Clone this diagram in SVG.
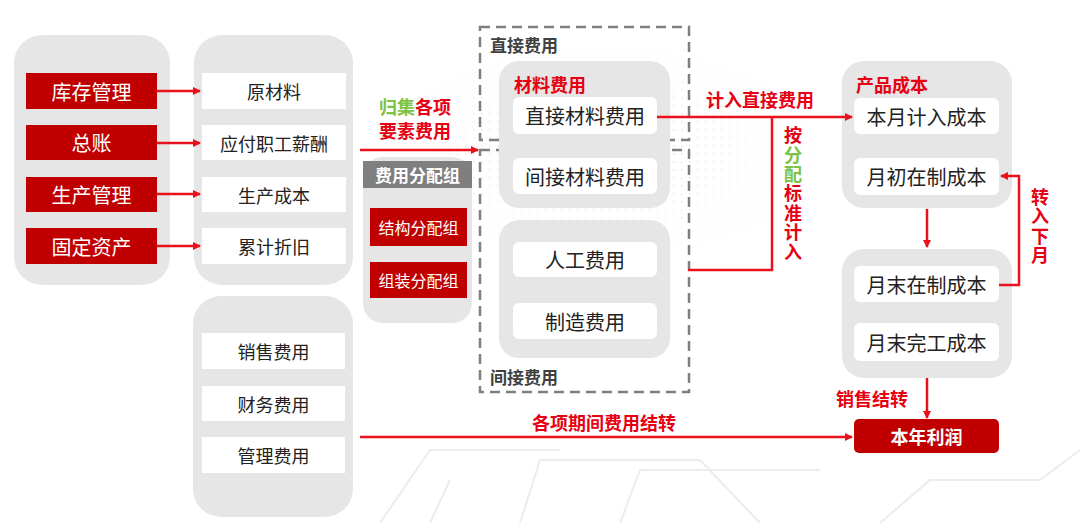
<svg xmlns="http://www.w3.org/2000/svg" width="1080" height="523" viewBox="0 0 1080 523">
<defs>
<style>
.c{fill:#e6e6e6}
.w{fill:#ffffff}
.r{fill:#c00000}
.t{font-family:"Noto Sans CJK SC","Noto Sans",sans-serif;text-anchor:middle;dominant-baseline:central}
.k{fill:#222;font-size:18px}
.kb{fill:#222;font-size:20px}
.wt{fill:#fff;font-size:20px}
.ws{fill:#fff;font-size:16px}
.rl{fill:#e60012;font-size:18px;font-weight:bold}
.dl{fill:#404040;font-size:17px;font-weight:bold}
.vt{font-family:"Noto Sans CJK SC","Noto Sans",sans-serif;font-size:18px;font-weight:bold;fill:#e60012;writing-mode:vertical-rl;letter-spacing:1.5px}
.ln{stroke:#e8111c;stroke-width:2.5;fill:none}
.dash{stroke:#7f7f7f;stroke-width:2.5;fill:none;stroke-dasharray:10 6}
</style>
<marker id="ah" markerWidth="8" markerHeight="8" refX="7" refY="4" orient="auto" markerUnits="userSpaceOnUse">
<path d="M0,0 L8,4 L0,8 Z" fill="#e8111c"/>
</marker>
<pattern id="dots" width="8" height="8" patternUnits="userSpaceOnUse">
<circle cx="2" cy="2" r="1" fill="#f3b8bb"/>
</pattern>
<radialGradient id="fade" cx="0.5" cy="0.5" r="0.5">
<stop offset="0" stop-color="#fff" stop-opacity="0.6"/>
<stop offset="1" stop-color="#fff" stop-opacity="0"/>
</radialGradient>
<mask id="m"><rect x="340" y="20" width="520" height="260" fill="url(#fade)"/></mask>
</defs>
<rect width="1080" height="523" fill="#ffffff"/>
<rect x="340" y="20" width="520" height="260" fill="url(#dots)" mask="url(#m)"/>
<g stroke="#ececec" stroke-width="2" fill="none">
<path d="M380 523 L430 450 L560 450"/>
<path d="M520 523 L540 460 L700 460 L760 523"/>
<path d="M620 523 L640 470 L820 470"/>
<path d="M430 523 L450 480"/>
<path d="M880 523 L930 480 L1040 480 L1080 450"/>
</g>

<g id="src">
<rect class="c" x="14" y="35" width="156" height="250" rx="28"/>
<g id="n-kucun"><rect class="r" x="26" y="73" width="131" height="36"/><text class="t wt" x="91.5" y="91">库存管理</text></g>
<g id="n-zongzhang"><rect class="r" x="26" y="125" width="131" height="35"/><text class="t wt" x="91.5" y="142.5">总账</text></g>
<g id="n-shengchan"><rect class="r" x="26" y="177" width="131" height="35"/><text class="t wt" x="91.5" y="194.5">生产管理</text></g>
<g id="n-guding"><rect class="r" x="26" y="228" width="131" height="36"/><text class="t wt" x="91.5" y="246">固定资产</text></g>
</g>

<g id="elem">
<rect class="c" x="194" y="35" width="159" height="250" rx="28"/>
<g id="n-yuancailiao"><rect class="w" x="202" y="73" width="144" height="36"/><text class="t k" x="274" y="91">原材料</text></g>
<g id="n-xinchou"><rect class="w" x="202" y="125" width="144" height="35"/><text class="t k" x="274" y="142.5">应付职工薪酬</text></g>
<g id="n-scchengben"><rect class="w" x="202" y="177" width="144" height="35"/><text class="t k" x="274" y="194.5">生产成本</text></g>
<g id="n-zhejiu"><rect class="w" x="202" y="228" width="144" height="36"/><text class="t k" x="274" y="246">累计折旧</text></g>
</g>

<g id="period">
<rect class="c" x="193" y="296" width="160" height="221" rx="28"/>
<g id="n-xiaoshou"><rect class="w" x="202" y="333" width="143" height="36"/><text class="t k" x="273.5" y="351">销售费用</text></g>
<g id="n-caiwu"><rect class="w" x="202" y="386" width="143" height="35"/><text class="t k" x="273.5" y="403.5">财务费用</text></g>
<g id="n-guanli"><rect class="w" x="202" y="437" width="143" height="36"/><text class="t k" x="273.5" y="455">管理费用</text></g>
</g>

<g id="alloc">
<rect class="c" x="363" y="157" width="109" height="166" rx="20"/>
<rect x="363" y="161" width="109" height="27" fill="#7f7f7f"/>
<text class="t" x="417.5" y="174.5" fill="#fff" font-size="17" font-weight="bold">费用分配组</text>
<g id="n-jiegou"><rect class="r" x="370" y="208" width="97" height="38"/><text class="t ws" x="418.5" y="227">结构分配组</text></g>
<g id="n-zuzhuang"><rect class="r" x="370" y="262" width="97" height="36"/><text class="t ws" x="418.5" y="280">组装分配组</text></g>
</g>

<g id="direct">
<rect class="dash" x="480" y="27" width="209" height="113"/>
<text class="t dl" x="524" y="44">直接费用</text>
</g>
<g id="indirect">
<rect class="dash" x="480" y="150" width="209" height="242"/>
<text class="t dl" x="524" y="376">间接费用</text>
</g>

<g id="material">
<rect class="c" x="499" y="61" width="171" height="147" rx="20"/>
<text class="t rl" x="550" y="84">材料费用</text>
<g id="n-zhijie"><rect class="w" x="513" y="97" width="144" height="37" rx="6"/><text class="t kb" x="585" y="115.5">直接材料费用</text></g>
<g id="n-jianjie"><rect class="w" x="513" y="158" width="144" height="36" rx="6"/><text class="t kb" x="585" y="176">间接材料费用</text></g>
</g>

<g id="labor">
<rect class="c" x="499" y="220" width="171" height="138" rx="20"/>
<g id="n-rengong"><rect class="w" x="513" y="242" width="144" height="35" rx="6"/><text class="t kb" x="585" y="259.5">人工费用</text></g>
<g id="n-zhizao"><rect class="w" x="513" y="303" width="144" height="36" rx="6"/><text class="t kb" x="585" y="321">制造费用</text></g>
</g>

<g id="product">
<rect class="c" x="842" y="61" width="170" height="147" rx="22"/>
<text class="t rl" x="892" y="84">产品成本</text>
<g id="n-benyue"><rect class="w" x="854" y="98" width="145" height="36" rx="6"/><text class="t kb" x="926.5" y="116">本月计入成本</text></g>
<g id="n-yuechu"><rect class="w" x="854" y="158" width="145" height="37" rx="6"/><text class="t kb" x="926.5" y="176.5">月初在制成本</text></g>
</g>

<g id="monthend">
<rect class="c" x="842" y="249" width="170" height="129" rx="22"/>
<g id="n-yuemo"><rect class="w" x="854" y="266" width="145" height="36" rx="6"/><text class="t kb" x="926.5" y="284">月末在制成本</text></g>
<g id="n-wangong"><rect class="w" x="854" y="323" width="145" height="38" rx="6"/><text class="t kb" x="926.5" y="342">月末完工成本</text></g>
</g>

<g id="n-lirun">
<rect x="854" y="419" width="145" height="34" rx="5" fill="#c00000"/>
<text class="t" x="926.5" y="436" fill="#fff" font-size="18" font-weight="bold">本年利润</text>
</g>

<g id="connectors">
<line class="ln" x1="157" y1="91" x2="200" y2="91" marker-end="url(#ah)"/>
<line class="ln" x1="157" y1="143" x2="200" y2="143" marker-end="url(#ah)"/>
<line class="ln" x1="157" y1="194" x2="200" y2="194" marker-end="url(#ah)"/>
<line class="ln" x1="157" y1="246" x2="200" y2="246" marker-end="url(#ah)"/>
<line class="ln" x1="360" y1="150" x2="478" y2="150" marker-end="url(#ah)"/>
<line class="ln" x1="657" y1="117" x2="852" y2="117" marker-end="url(#ah)"/>
<polyline class="ln" points="688,270 772,270 772,117"/>
<line class="ln" x1="927" y1="209" x2="927" y2="247" marker-end="url(#ah)"/>
<polyline class="ln" points="999,285 1019,285 1019,176 1001,176" marker-end="url(#ah)"/>
<line class="ln" x1="927" y1="378" x2="927" y2="418" marker-end="url(#ah)"/>
<line class="ln" x1="360" y1="437" x2="852" y2="437" marker-end="url(#ah)"/>
</g>

<g id="labels">
<text class="t" x="415" y="106" font-size="18" font-weight="bold"><tspan fill="#7dc242">归集</tspan><tspan fill="#e60012">各项</tspan></text>
<text class="t rl" x="415" y="130">要素费用</text>
<text class="t rl" x="760" y="99">计入直接费用</text>
<text class="vt" x="793" y="126">按<tspan fill="#7dc242">分配</tspan>标准计入</text>
<text class="vt" x="1040" y="188">转入下月</text>
<text class="t rl" x="872" y="398">销售结转</text>
<text class="t rl" x="604" y="422">各项期间费用结转</text>
</g>
</svg>
